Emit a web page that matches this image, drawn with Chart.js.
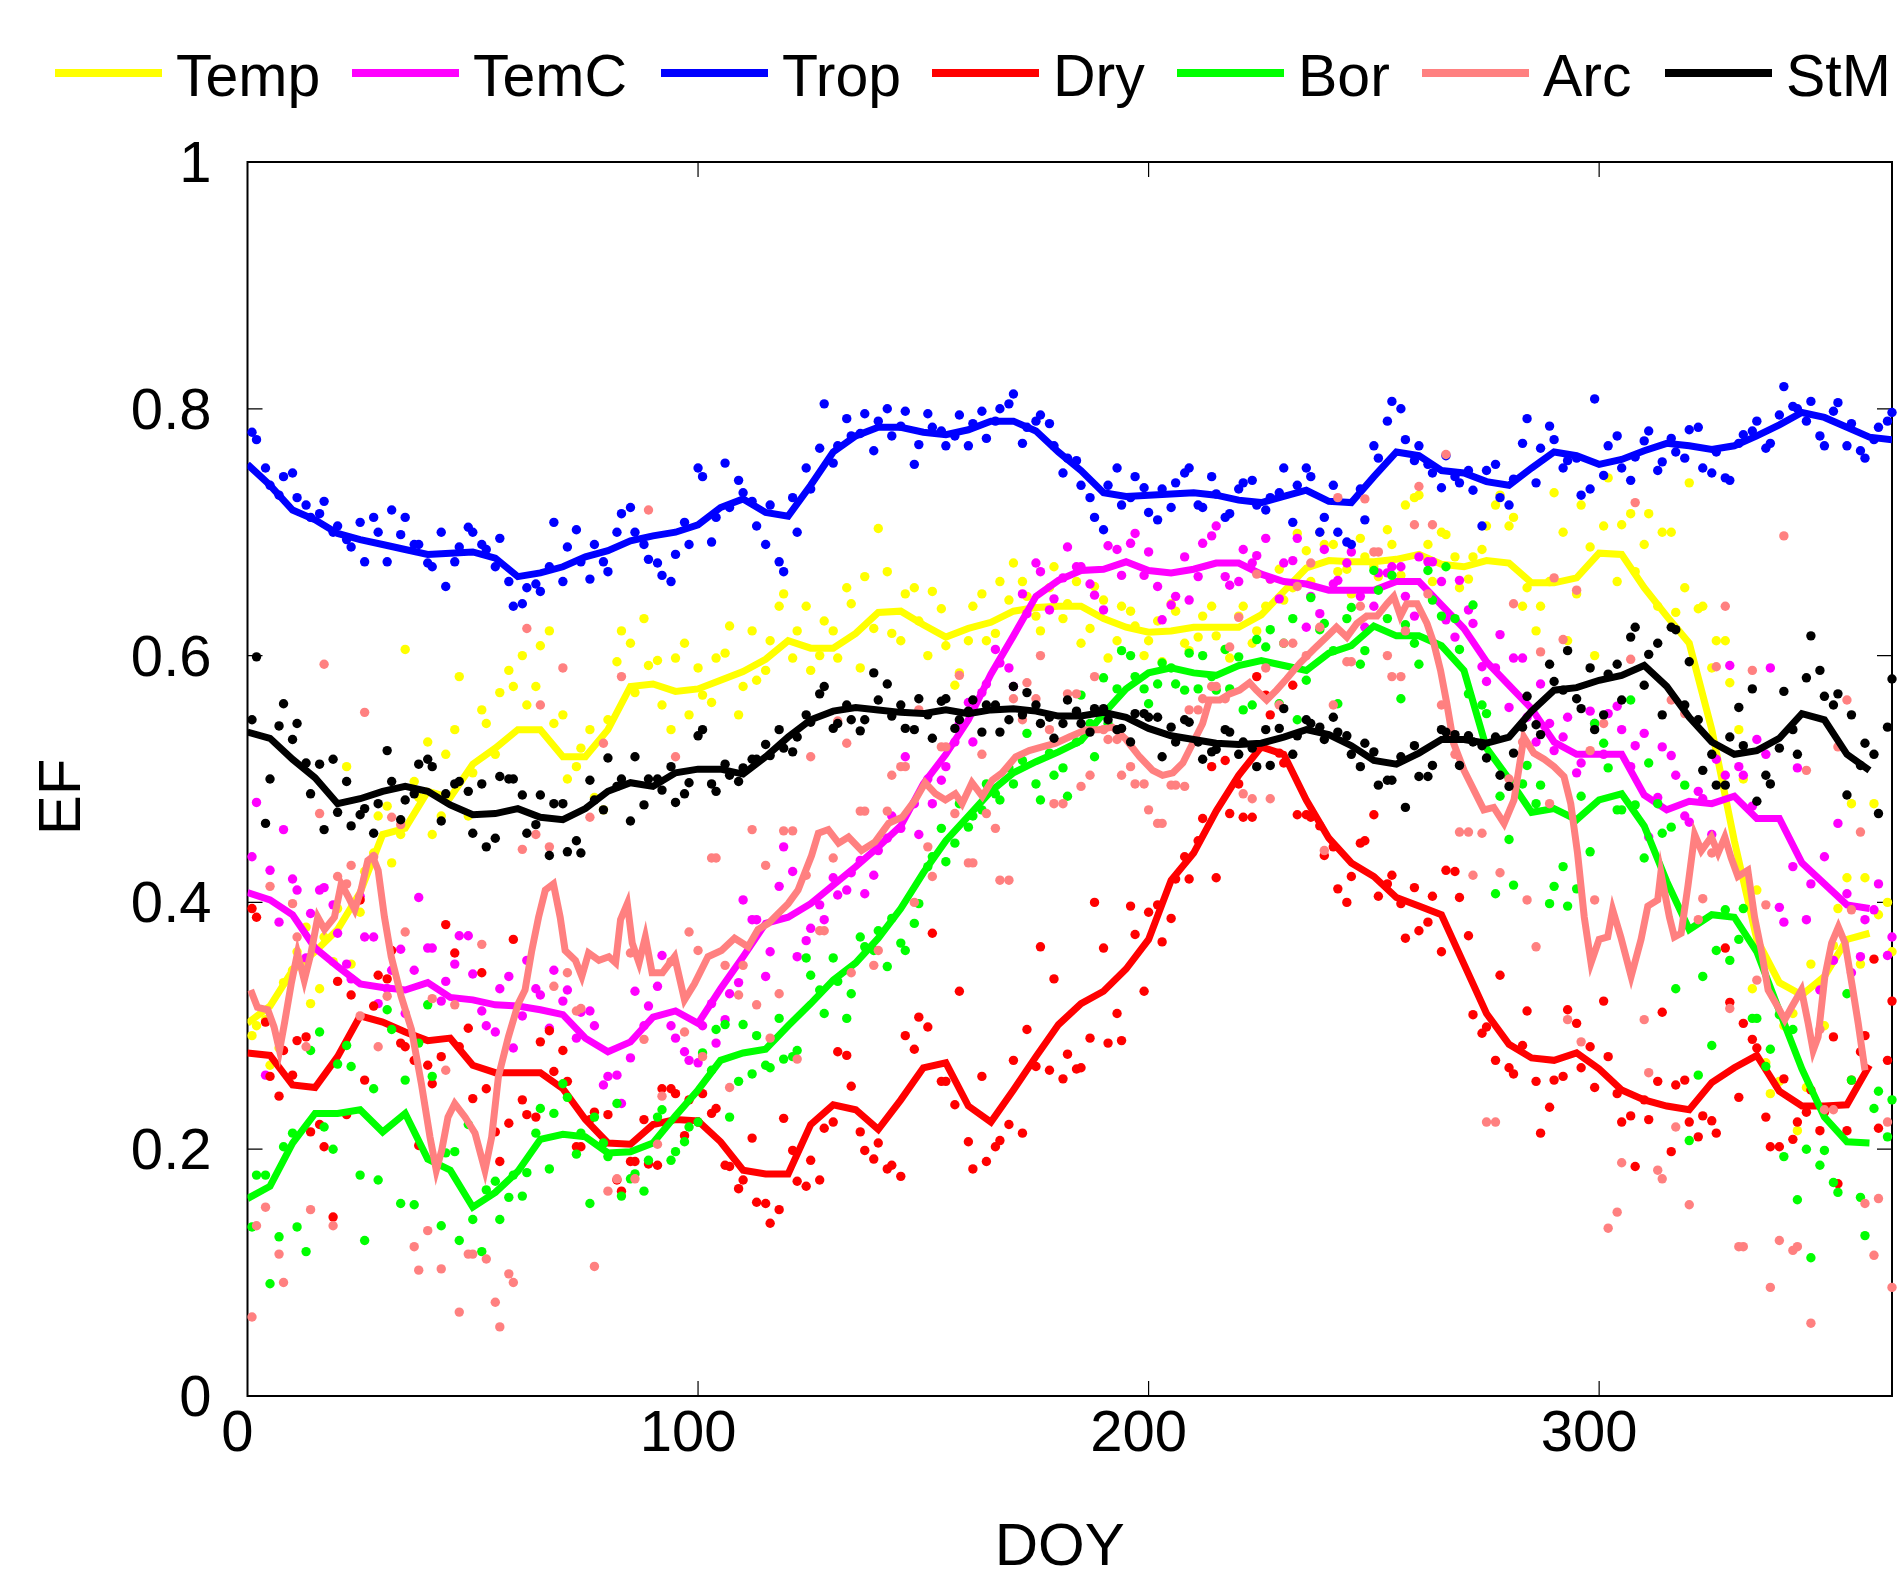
<!DOCTYPE html>
<html>
<head>
<meta charset="utf-8">
<title>EF by DOY</title>
<script src="https://cdn.jsdelivr.net/npm/chart.js@4.4.1/dist/chart.umd.min.js"></script>
<style>
  html, body { margin: 0; padding: 0; background: #fff; }
  #wrap { width: 1903px; height: 1576px; }
</style>
</head>
<body>
<div id="wrap"><canvas id="efChart" width="1903" height="1576"></canvas></div>
<script>
// series names, in legend order
const seriesNames = ['Temp', 'TemC', 'Trop', 'Dry', 'Bor', 'Arc', 'StM'];

// days of the smoothed lines (every 5 days)
const lineDays = [0,5,10,15,20,25,30,35,40,45,50,55,60,65,70,75,80,85,90,95,
  100,105,110,115,120,125,130,135,140,145,150,155,160,165,170,175,180,185,190,195,
  200,205,210,215,220,225,230,235,240,245,250,255,260,265,270,275,280,285,290,295,
  300,305,310,315,320,325,330,335,340,345,350,355,360,365];

const tempLine = [0.302,0.316,0.345,0.360,0.378,0.408,0.455,0.460,0.490,0.485,
  0.512,0.525,0.540,0.540,0.518,0.518,0.540,0.575,0.577,0.571,
  0.573,0.580,0.587,0.597,0.612,0.606,0.606,0.618,0.635,0.636,
  0.625,0.615,0.622,0.627,0.636,0.639,0.640,0.640,0.630,0.623,
  0.619,0.620,0.623,0.623,0.623,0.633,0.652,0.671,0.677,0.676,
  0.676,0.678,0.682,0.674,0.672,0.677,0.675,0.659,0.659,0.663,
  0.683,0.682,0.655,0.632,0.610,0.540,0.450,0.370,0.335,0.325,
  0.340,0.370,0.375,null];
const temCLine = [0.408,0.402,0.390,0.363,0.348,0.334,0.331,0.329,0.335,0.323,
  0.321,0.317,0.316,0.313,0.309,0.290,0.279,0.287,0.307,0.312,
  0.302,0.330,0.356,0.383,0.388,0.399,0.414,0.429,0.445,0.462,
  0.496,0.520,0.548,0.585,0.616,0.648,0.661,0.669,0.670,0.676,
  0.669,0.667,0.670,0.675,0.675,0.666,0.660,0.658,0.653,0.653,
  0.653,0.660,0.660,0.641,0.622,0.595,0.576,0.557,0.530,0.520,
  0.520,0.520,0.487,0.475,0.482,0.480,0.486,0.468,0.468,0.432,
  0.415,0.398,0.395,null];
const tropLine = [0.755,0.738,0.718,0.710,0.699,0.694,0.690,0.686,0.682,0.683,
  0.684,0.679,0.664,0.667,0.672,0.680,0.685,0.693,0.697,0.700,
  0.706,0.720,0.727,0.716,0.713,0.738,0.765,0.778,0.785,0.785,
  0.781,0.779,0.783,0.790,0.790,0.782,0.765,0.750,0.732,0.729,
  0.730,0.731,0.732,0.730,0.726,0.724,0.729,0.734,0.725,0.724,
  0.745,0.765,0.762,0.750,0.748,0.741,0.738,0.752,0.765,0.762,
  0.755,0.759,0.766,0.772,0.770,0.767,0.770,0.778,0.787,0.797,
  0.793,0.785,0.777,0.775];
const dryLine = [0.278,0.276,0.252,0.250,0.275,0.308,0.303,0.295,0.288,0.290,
  0.268,0.262,0.262,0.262,0.249,0.224,0.205,0.204,0.220,0.224,
  0.223,0.206,0.183,0.180,0.180,0.220,0.236,0.232,0.216,0.240,
  0.266,0.270,0.235,0.222,0.248,0.275,0.301,0.318,0.328,0.346,
  0.370,0.418,0.440,0.474,0.503,0.526,0.520,0.483,0.452,0.432,
  0.421,0.404,0.397,0.390,0.350,0.310,0.285,0.274,0.272,0.278,
  0.265,0.248,0.240,0.235,0.232,0.254,0.266,0.276,0.247,0.235,
  0.235,0.236,0.268,null];
const borLine = [0.160,0.170,0.205,0.229,0.229,0.232,0.214,0.229,0.192,0.183,
  0.153,0.165,0.182,0.208,0.212,0.210,0.197,0.198,0.205,0.227,
  0.248,0.272,0.278,0.281,0.300,0.318,0.337,0.351,0.371,0.395,
  0.424,0.450,0.470,0.490,0.505,0.514,0.522,0.531,0.553,0.573,
  0.586,0.590,0.586,0.584,0.592,0.596,0.592,0.588,0.602,0.608,
  0.624,0.616,0.616,0.608,0.588,0.525,0.500,0.473,0.476,0.467,
  0.483,0.488,0.462,0.417,0.378,0.390,0.388,0.360,0.312,0.265,
  0.226,0.206,0.205,null];
const stmLine = [0.538,0.533,0.516,0.501,0.480,0.484,0.490,0.494,0.490,0.479,
  0.471,0.472,0.476,0.469,0.467,0.476,0.490,0.497,0.494,0.505,
  0.508,0.508,0.504,0.518,0.534,0.548,0.555,0.558,0.556,0.554,
  0.553,0.556,0.553,0.556,0.557,0.555,0.551,0.551,0.554,0.550,
  0.541,0.535,0.532,0.529,0.528,0.529,0.534,0.540,0.536,0.527,
  0.515,0.512,0.521,0.532,0.532,0.529,0.534,0.555,0.572,0.574,
  0.580,0.584,0.592,0.575,0.550,0.530,0.520,0.523,0.533,0.553,
  0.548,0.520,0.507,null];

// the Arc line is spiky, so it keeps its own, denser days
const arcLineDays = [0.7,2.2,4.5,5.9,7.1,8.2,9.7,11.1,12.6,14.1,
  15.6,17.1,19.3,20.8,22.3,23.8,25.2,26.7,27.8,29,
  30.4,31.9,34.1,36.4,38.6,40.5,41.9,43.1,44.5,46,
  48.3,50.5,52.7,54.2,55.7,57.9,60.1,61.6,63.1,64.6,
  66.1,67.9,69.4,70.5,72.8,74.2,75.7,78,80.2,81.7,
  82.8,84.3,85.4,86.9,88.3,89.8,92.1,94.8,97,99.2,
  102.2,105.2,108.1,111.1,113.3,115.6,117.8,120,122.2,123.7,
  125.2,126.7,128.9,131.2,133.4,136.3,139.3,142.3,145.3,148.2,
  150.4,152.7,154.9,157.1,158.6,160.8,163.1,165.3,167.5,170.5,
  173.5,176.4,179.4,182.4,186.1,189,192,195,198,200.9,
  203.1,205.4,207.6,209.8,212,213.5,215.8,218,220.2,222.4,
  223.9,226.2,228.4,230.6,233.6,236.6,239.5,241.7,244,246.2,
  248.4,250.7,252.9,254.4,255.9,257.3,259.6,261.8,263.3,264.8,
  266.2,267.7,270,272.2,274.4,276.6,278.9,281.1,283.3,285.5,
  287.8,290,292.2,293.7,295.2,296.7,298.2,300,301.9,303,
  304.8,307.1,309.3,310.8,313,313.7,315.6,316.7,318.2,319.7,
  321.2,322.7,324.9,326.4,327.9,329.3,330.8,333,334.5,336,
  337.5,339.7,341.2,342.7,344.9,346.4,347.5,348.6,350.1,351.6,
  353.1,354.6,356.1,357.5,359];
const arcLine = [0.329,0.315,0.313,0.299,0.280,0.302,0.334,0.359,0.337,0.359,
  0.388,0.378,0.388,0.415,0.405,0.394,0.410,0.434,0.437,0.426,
  0.388,0.356,0.324,0.297,0.253,0.210,0.183,0.199,0.226,0.237,
  0.226,0.213,0.183,0.210,0.259,0.291,0.318,0.329,0.361,0.388,
  0.410,0.415,0.388,0.361,0.353,0.340,0.359,0.353,0.356,0.351,
  0.386,0.399,0.367,0.351,0.372,0.343,0.343,0.356,0.321,0.334,
  0.356,0.361,0.371,0.364,0.378,0.383,0.391,0.399,0.410,0.424,
  0.438,0.456,0.459,0.448,0.453,0.442,0.449,0.464,0.469,0.483,
  0.497,0.488,0.483,0.488,0.480,0.497,0.486,0.499,0.505,0.518,
  0.523,0.526,0.529,0.534,0.540,0.540,0.542,0.532,0.518,0.507,
  0.503,0.505,0.513,0.529,0.545,0.564,0.564,0.569,0.572,0.578,
  0.572,0.564,0.572,0.581,0.594,0.605,0.615,0.623,0.615,0.626,
  0.632,0.632,0.642,0.648,0.632,0.642,0.642,0.626,0.610,0.588,
  0.561,0.529,0.507,0.491,0.475,0.477,0.464,0.483,0.534,0.521,
  0.516,0.510,0.502,0.480,0.440,0.388,0.351,0.370,0.372,0.394,
  0.372,0.340,0.370,0.397,0.402,0.424,0.388,0.372,0.375,0.413,
  0.455,0.442,0.453,0.440,0.453,0.436,0.421,0.426,0.388,0.361,
  0.329,0.315,0.305,0.315,0.329,0.302,0.280,0.291,0.340,0.367,
  0.380,0.367,0.334,0.302,0.264];

// daily dots, shown in two interleaved sets of days (A: 2,5,8,...  B: 1,4,7,...)
const dotDaysA = [2,5,8,11,14,17,20,23,26,29,32,35,38,41,44,47,50,53,56,59,
  62,65,68,71,74,77,80,83,86,89,92,95,98,101,104,107,110,113,116,119,
  122,125,128,131,134,137,140,143,146,149,152,155,158,161,164,167,170,173,176,179,
  182,185,188,191,194,197,200,203,206,209,212,215,218,221,224,227,230,233,236,239,
  242,245,248,251,254,257,260,263,266,269,272,275,278,281,284,287,290,293,296,299,
  302,305,308,311,314,317,320,323,326,329,332,335,338,341,344,347,350,353,356,359,
  362,365];
const dotDaysB = [1,4,7,10,13,16,19,22,25,28,31,34,37,40,43,46,49,52,55,58,
  61,64,67,70,73,76,79,82,85,88,91,94,97,100,103,106,109,112,115,118,
  121,124,127,130,133,136,139,142,145,148,151,154,157,160,163,166,169,172,175,178,
  181,184,187,190,193,196,199,202,205,208,211,214,217,220,223,226,229,232,235,238,
  241,244,247,250,253,256,259,262,265,268,271,274,277,280,283,286,289,292,295,298,
  301,304,307,310,313,316,319,322,325,328,331,334,337,340,343,346,349,352,355,358,
  361,364];

const tempDotsA = [0.300,0.268,0.335,0.360,0.318,0.372,0.395,0.350,0.425,0.470,
  0.432,0.605,0.485,0.455,0.520,0.583,0.505,0.545,0.570,0.575,
  0.560,0.608,0.545,0.500,0.525,0.485,0.548,0.620,0.570,0.592,
  0.560,0.598,0.552,0.568,0.598,0.624,0.575,0.580,0.612,0.650,
  0.620,0.588,0.628,0.598,0.642,0.664,0.703,0.618,0.650,0.628,
  0.652,0.608,0.586,0.640,0.612,0.660,0.675,0.648,0.620,0.672,
  0.642,0.610,0.656,0.598,0.640,0.624,0.612,0.595,0.636,0.604,
  0.632,0.616,0.598,0.640,0.620,0.662,0.645,0.699,0.660,0.690,
  0.668,0.650,0.680,0.664,0.690,0.722,0.730,0.660,0.698,0.655,
  0.680,0.705,0.730,0.712,0.655,0.640,0.732,0.612,0.722,0.600,
  0.744,0.706,0.668,0.715,0.700,0.635,0.740,0.640,0.612,0.578,
  0.500,0.410,0.245,0.300,0.215,0.350,0.300,0.395,0.480,0.420,
  0.390,0.360];
const tempDotsB = [0.292,0.305,0.282,0.345,0.380,0.330,0.352,0.510,0.392,0.440,
  0.478,0.455,0.498,0.530,0.470,0.540,0.470,0.556,0.520,0.588,
  0.600,0.575,0.620,0.552,0.510,0.540,0.475,0.595,0.610,0.630,
  0.596,0.540,0.610,0.590,0.562,0.602,0.552,0.620,0.588,0.640,
  0.598,0.640,0.600,0.620,0.655,0.590,0.622,0.668,0.612,0.655,
  0.600,0.638,0.576,0.612,0.650,0.618,0.645,0.660,0.632,0.655,
  0.630,0.660,0.622,0.645,0.612,0.636,0.600,0.628,0.642,0.610,
  0.615,0.640,0.605,0.632,0.610,0.640,0.670,0.655,0.685,0.700,
  0.690,0.670,0.695,0.672,0.702,0.665,0.728,0.690,0.700,0.680,
  0.662,0.686,0.722,0.705,0.640,0.620,0.660,0.700,0.650,0.688,
  0.705,0.660,0.715,0.690,0.640,0.700,0.655,0.638,0.590,0.612,
  0.540,0.330,0.270,0.255,0.310,0.250,0.330,0.365,0.420,0.350,
  0.480,0.400];
const temCDotsA = [0.481,0.426,0.459,0.410,0.391,0.412,0.375,0.338,0.372,0.318,
  0.345,0.310,0.404,0.363,0.336,0.373,0.342,0.300,0.330,0.282,
  0.353,0.325,0.345,0.329,0.311,0.300,0.259,0.237,0.328,0.316,
  0.357,0.290,0.272,0.300,0.286,0.326,0.402,0.386,0.360,0.445,
  0.356,0.379,0.386,0.406,0.424,0.407,0.442,0.470,0.518,0.455,
  0.480,0.510,0.545,0.530,0.577,0.594,0.575,0.634,0.668,0.646,
  0.688,0.672,0.649,0.689,0.665,0.699,0.684,0.629,0.648,0.645,
  0.691,0.705,0.657,0.686,0.681,0.662,0.675,0.695,0.648,0.686,
  0.661,0.684,0.623,0.667,0.672,0.648,0.680,0.676,0.629,0.661,
  0.626,0.579,0.617,0.598,0.550,0.577,0.523,0.550,0.513,0.545,
  0.553,0.540,0.527,0.453,0.526,0.503,0.465,0.484,0.516,0.592,
  0.503,0.532,0.590,0.384,0.509,0.415,0.437,0.464,0.343,0.386,
  0.415,0.372];
const temCDotsB = [0.437,0.260,0.384,0.419,0.355,0.410,0.398,0.350,0.405,0.372,
  0.330,0.362,0.345,0.363,0.320,0.350,0.373,0.312,0.295,0.340,
  0.308,0.330,0.298,0.320,0.290,0.312,0.252,0.260,0.274,0.300,
  0.332,0.300,0.279,0.270,0.318,0.305,0.335,0.386,0.340,0.413,
  0.425,0.369,0.398,0.420,0.410,0.434,0.422,0.452,0.460,0.480,
  0.500,0.499,0.530,0.562,0.570,0.605,0.590,0.650,0.675,0.637,
  0.663,0.672,0.658,0.637,0.686,0.691,0.665,0.656,0.641,0.680,
  0.664,0.697,0.664,0.660,0.675,0.695,0.646,0.677,0.623,0.634,
  0.658,0.675,0.648,0.640,0.667,0.672,0.632,0.676,0.660,0.615,
  0.637,0.591,0.590,0.558,0.598,0.530,0.545,0.534,0.505,0.555,
  0.520,0.559,0.510,0.537,0.485,0.519,0.470,0.490,0.455,0.503,
  0.510,0.478,0.520,0.396,0.429,0.386,0.329,0.353,0.407,0.356,
  0.394,0.357];
const tropDotsA = [0.775,0.738,0.745,0.728,0.712,0.725,0.705,0.688,0.676,0.700,
  0.718,0.712,0.690,0.672,0.656,0.688,0.700,0.686,0.695,0.640,
  0.655,0.652,0.708,0.688,0.676,0.690,0.668,0.715,0.700,0.678,
  0.665,0.682,0.690,0.745,0.712,0.720,0.732,0.705,0.722,0.668,
  0.700,0.735,0.804,0.770,0.778,0.796,0.790,0.778,0.798,0.771,
  0.785,0.770,0.795,0.788,0.776,0.800,0.812,0.785,0.795,0.770,
  0.760,0.738,0.712,0.738,0.722,0.745,0.716,0.735,0.740,0.752,
  0.720,0.731,0.715,0.740,0.722,0.728,0.752,0.738,0.745,0.712,
  0.700,0.690,0.710,0.760,0.806,0.775,0.770,0.748,0.762,0.740,
  0.734,0.750,0.728,0.743,0.792,0.768,0.775,0.758,0.730,0.808,
  0.770,0.752,0.761,0.782,0.757,0.765,0.783,0.752,0.765,0.742,
  0.779,0.790,0.772,0.818,0.800,0.806,0.770,0.805,0.788,0.760,
  0.785,0.797];
const tropDotsB = [0.781,0.752,0.730,0.748,0.722,0.715,0.700,0.694,0.708,0.712,
  0.676,0.698,0.690,0.675,0.700,0.676,0.704,0.690,0.672,0.660,
  0.642,0.658,0.672,0.660,0.702,0.662,0.676,0.700,0.720,0.690,
  0.675,0.660,0.708,0.752,0.692,0.756,0.742,0.725,0.690,0.676,
  0.728,0.752,0.768,0.756,0.792,0.780,0.766,0.800,0.786,0.755,
  0.796,0.782,0.778,0.770,0.798,0.790,0.804,0.772,0.790,0.788,
  0.748,0.758,0.728,0.702,0.752,0.728,0.736,0.710,0.720,0.748,
  0.722,0.745,0.712,0.735,0.742,0.718,0.732,0.708,0.752,0.700,
  0.738,0.692,0.735,0.770,0.790,0.800,0.758,0.755,0.736,0.745,
  0.750,0.705,0.755,0.722,0.772,0.740,0.786,0.752,0.760,0.735,
  0.746,0.778,0.742,0.774,0.750,0.776,0.760,0.785,0.748,0.744,
  0.772,0.782,0.768,0.795,0.802,0.790,0.778,0.798,0.770,0.766,
  0.775,0.790];
const dryDotsA = [0.388,0.259,0.280,0.288,0.214,0.202,0.336,0.325,0.256,0.341,
  0.361,0.283,0.203,0.253,0.382,0.283,0.241,0.249,0.190,0.370,
  0.228,0.287,0.263,0.255,0.202,0.230,0.228,0.166,0.190,0.188,
  0.249,0.245,0.240,0.245,0.233,0.186,0.175,0.157,0.140,0.225,
  0.174,0.191,0.217,0.279,0.251,0.199,0.205,0.187,0.292,0.307,
  0.375,0.255,0.328,0.184,0.190,0.207,0.272,0.297,0.364,0.338,
  0.277,0.266,0.400,0.286,0.288,0.374,0.392,0.368,0.419,0.419,
  0.468,0.420,0.472,0.469,0.583,0.552,0.513,0.471,0.469,0.438,
  0.411,0.421,0.450,0.405,0.422,0.371,0.377,0.405,0.426,0.404,
  0.309,0.299,0.341,0.261,0.312,0.213,0.256,0.313,0.266,0.250,
  0.275,0.222,0.186,0.224,0.311,0.252,0.222,0.227,0.213,0.319,
  0.302,0.282,0.202,0.257,0.222,0.248,0.230,0.172,0.256,0.292,
  0.217,0.320];
const dryDotsB = [0.395,0.303,0.243,0.260,0.291,0.220,0.145,0.228,0.402,0.316,
  0.338,0.286,0.272,0.268,0.275,0.359,0.298,0.343,0.214,0.221,
  0.240,0.226,0.296,0.280,0.202,0.224,0.205,0.175,0.190,0.224,
  0.187,0.249,0.211,0.222,0.229,0.187,0.168,0.209,0.156,0.151,
  0.199,0.170,0.175,0.222,0.276,0.214,0.192,0.184,0.178,0.281,
  0.299,0.255,0.236,0.206,0.259,0.202,0.220,0.213,0.267,0.264,
  0.257,0.265,0.290,0.363,0.310,0.397,0.328,0.398,0.387,0.437,
  0.450,0.510,0.515,0.496,0.469,0.568,0.521,0.576,0.471,0.462,
  0.445,0.400,0.448,0.471,0.415,0.399,0.412,0.384,0.360,0.425,
  0.373,0.294,0.272,0.266,0.284,0.255,0.234,0.259,0.302,0.283,
  0.320,0.245,0.227,0.240,0.255,0.198,0.256,0.210,0.223,0.363,
  0.242,0.289,0.226,0.202,0.208,0.230,0.215,0.291,0.215,0.279,
  0.354,0.272];
const borDotsA = [0.179,0.091,0.202,0.137,0.280,0.218,0.269,0.267,0.126,0.175,
  0.297,0.256,0.286,0.259,0.197,0.126,0.143,0.167,0.143,0.179,
  0.181,0.233,0.229,0.242,0.213,0.226,0.194,0.162,0.180,0.191,
  0.232,0.198,0.218,0.278,0.297,0.226,0.301,0.292,0.266,0.273,
  0.280,0.341,0.310,0.336,0.326,0.364,0.377,0.387,0.361,0.399,
  0.437,0.433,0.480,0.470,0.496,0.483,0.496,0.537,0.483,0.503,
  0.486,0.568,0.518,0.545,0.604,0.583,0.561,0.594,0.577,0.602,
  0.600,0.572,0.573,0.556,0.613,0.621,0.610,0.548,0.647,0.626,
  0.561,0.639,0.604,0.653,0.665,0.625,0.593,0.645,0.672,0.605,
  0.641,0.553,0.486,0.414,0.511,0.495,0.413,0.397,0.486,0.545,
  0.509,0.475,0.479,0.513,0.456,0.330,0.207,0.340,0.361,0.353,
  0.395,0.306,0.281,0.194,0.159,0.112,0.199,0.165,0.256,0.130,
  0.247,0.240];
const borDotsB = [0.137,0.179,0.129,0.213,0.117,0.295,0.200,0.284,0.179,0.249,
  0.313,0.156,0.155,0.317,0.138,0.198,0.220,0.117,0.174,0.161,
  0.162,0.213,0.184,0.253,0.196,0.156,0.205,0.237,0.176,0.166,
  0.226,0.191,0.206,0.222,0.264,0.301,0.255,0.261,0.268,0.306,
  0.275,0.355,0.329,0.355,0.306,0.372,0.361,0.348,0.367,0.383,
  0.429,0.460,0.448,0.461,0.475,0.488,0.509,0.515,0.496,0.521,
  0.509,0.530,0.545,0.582,0.573,0.600,0.573,0.577,0.590,0.572,
  0.573,0.583,0.605,0.599,0.560,0.607,0.561,0.630,0.580,0.621,
  0.604,0.630,0.593,0.669,0.630,0.565,0.610,0.669,0.632,0.630,
  0.569,0.560,0.407,0.451,0.496,0.480,0.399,0.429,0.411,0.441,
  0.529,0.475,0.564,0.436,0.480,0.461,0.495,0.260,0.284,0.394,
  0.370,0.306,0.267,0.309,0.297,0.200,0.187,0.173,0.326,0.161,
  0.233,0.210];
const arcDotsA = [0.138,0.413,0.092,0.372,0.151,0.593,0.421,0.430,0.554,0.283,
  0.469,0.376,0.102,0.322,0.264,0.068,0.115,0.111,0.056,0.092,
  0.622,0.560,0.332,0.343,0.314,0.105,0.166,0.583,0.176,0.718,
  0.243,0.518,0.376,0.275,0.436,0.250,0.349,0.317,0.290,0.458,
  0.273,0.518,0.377,0.547,0.343,0.474,0.361,0.503,0.510,0.556,
  0.421,0.526,0.584,0.432,0.472,0.418,0.565,0.578,0.600,0.480,
  0.569,0.494,0.583,0.532,0.503,0.496,0.475,0.464,0.495,0.556,
  0.565,0.575,0.607,0.488,0.666,0.484,0.610,0.656,0.675,0.442,
  0.728,0.595,0.727,0.684,0.583,0.620,0.737,0.706,0.763,0.457,
  0.422,0.222,0.424,0.642,0.402,0.603,0.663,0.305,0.287,0.402,
  0.136,0.189,0.724,0.262,0.176,0.218,0.155,0.403,0.591,0.314,
  0.121,0.337,0.088,0.697,0.121,0.059,0.232,0.526,0.394,0.156,
  0.160,0.088];
const arcDotsB = [0.064,0.153,0.115,0.399,0.283,0.472,0.138,0.415,0.308,0.437,
  0.324,0.463,0.121,0.134,0.103,0.317,0.115,0.366,0.076,0.099,
  0.443,0.455,0.445,0.590,0.312,0.469,0.529,0.176,0.359,0.289,
  0.204,0.352,0.295,0.361,0.436,0.349,0.325,0.459,0.430,0.326,
  0.458,0.422,0.377,0.436,0.529,0.474,0.349,0.474,0.510,0.400,
  0.445,0.526,0.472,0.432,0.520,0.460,0.418,0.548,0.565,0.540,
  0.480,0.569,0.503,0.540,0.532,0.510,0.496,0.464,0.495,0.494,
  0.556,0.575,0.565,0.631,0.484,0.590,0.560,0.610,0.600,0.623,
  0.560,0.595,0.640,0.684,0.600,0.583,0.706,0.650,0.560,0.520,
  0.457,0.456,0.222,0.500,0.530,0.364,0.480,0.613,0.653,0.523,
  0.545,0.149,0.597,0.305,0.183,0.564,0.553,0.386,0.440,0.640,
  0.121,0.588,0.398,0.126,0.118,0.507,0.297,0.232,0.564,0.457,
  0.114,0.222];
const stmDotsA = [0.599,0.500,0.561,0.545,0.488,0.459,0.473,0.462,0.476,0.480,
  0.498,0.483,0.512,0.510,0.488,0.498,0.456,0.445,0.502,0.500,
  0.456,0.487,0.480,0.441,0.440,0.483,0.517,0.500,0.518,0.500,
  0.491,0.481,0.497,0.540,0.490,0.503,0.509,0.516,0.519,0.525,
  0.534,0.546,0.575,0.545,0.548,0.548,0.564,0.551,0.541,0.565,
  0.533,0.565,0.548,0.564,0.560,0.538,0.575,0.570,0.545,0.533,
  0.564,0.545,0.557,0.548,0.541,0.553,0.550,0.518,0.530,0.546,
  0.516,0.524,0.538,0.530,0.510,0.511,0.557,0.535,0.545,0.532,
  0.538,0.520,0.529,0.495,0.499,0.477,0.502,0.511,0.538,0.511,
  0.530,0.517,0.503,0.521,0.567,0.536,0.579,0.604,0.557,0.540,
  0.585,0.564,0.623,0.601,0.552,0.621,0.595,0.507,0.495,0.534,
  0.527,0.482,0.496,0.571,0.520,0.616,0.567,0.569,0.552,0.529,
  0.472,0.581];
const stmDotsB = [0.548,0.464,0.543,0.532,0.513,0.512,0.516,0.498,0.471,0.456,
  0.523,0.467,0.488,0.516,0.466,0.496,0.490,0.496,0.452,0.500,
  0.487,0.463,0.438,0.480,0.450,0.499,0.475,0.494,0.466,0.479,
  0.500,0.510,0.488,0.535,0.496,0.512,0.498,0.516,0.528,0.540,
  0.522,0.552,0.569,0.541,0.560,0.539,0.586,0.577,0.560,0.540,
  0.552,0.563,0.541,0.555,0.538,0.560,0.548,0.552,0.560,0.550,
  0.545,0.555,0.538,0.557,0.540,0.530,0.553,0.550,0.542,0.548,
  0.530,0.522,0.540,0.520,0.525,0.540,0.541,0.520,0.548,0.542,
  0.550,0.535,0.510,0.522,0.499,0.518,0.527,0.502,0.540,0.536,
  0.535,0.527,0.534,0.494,0.542,0.544,0.593,0.572,0.565,0.590,
  0.552,0.593,0.615,0.576,0.610,0.623,0.560,0.548,0.520,0.495,
  0.558,0.573,0.503,0.525,0.540,0.582,0.588,0.560,0.487,0.511,
  0.520,0.542];

const xTickValues = [0, 100, 200, 300];

// colours (same order as seriesNames)
const seriesColors = ['#ffff00', '#ff00ff', '#0000ff', '#ff0000', '#00ff00', '#ff8080', '#000000'];

const lineSets = [
  [lineDays, tempLine], [lineDays, temCLine], [lineDays, tropLine], [lineDays, dryLine],
  [lineDays, borLine], [arcLineDays, arcLine], [lineDays, stmLine]
];
const dotSetsA = [tempDotsA, temCDotsA, tropDotsA, dryDotsA, borDotsA, arcDotsA, stmDotsA];
const dotSetsB = [tempDotsB, temCDotsB, tropDotsB, dryDotsB, borDotsB, arcDotsB, stmDotsB];

const toPoints = (xs, ys) => xs.map((x, i) => ({x: x, y: ys[i]}));

// each series: dots first, then its line; later series sit on top
const datasets = [];
seriesNames.forEach((name, i) => {
  datasets.push({
    type: 'scatter',
    label: name + ' daily',
    data: toPoints(dotDaysA, dotSetsA[i]).concat(toPoints(dotDaysB, dotSetsB[i])),
    backgroundColor: seriesColors[i],
    borderWidth: 0,
    pointRadius: 4.7,
    pointHoverRadius: 4.7,
    clip: false,
    order: 100 - 2 * i
  });
  datasets.push({
    type: 'line',
    label: name,
    isLegendLine: true,
    data: toPoints(lineSets[i][0], lineSets[i][1]),
    borderColor: seriesColors[i],
    backgroundColor: seriesColors[i],
    borderWidth: 7,
    pointRadius: 0,
    tension: 0,
    fill: false,
    spanGaps: false,
    order: 99 - 2 * i
  });
});

const FONT = '"Liberation Sans", Arial, sans-serif';

// frame with inward ticks, axis titles and a legend row above the plot
const frameAndLegend = {
  id: 'frameAndLegend',
  beforeDatasetsDraw(chart) {
    const {ctx, chartArea: a, scales: {x, y}} = chart;
    const tl = 15;
    ctx.save();
    ctx.strokeStyle = '#000';
    ctx.lineWidth = 1.2;
    ctx.beginPath();
    x.ticks.forEach(t => {
      if (t.value <= x.min || t.value >= x.max) return;
      const px = x.getPixelForValue(t.value);
      ctx.moveTo(px, a.bottom); ctx.lineTo(px, a.bottom - tl);
      ctx.moveTo(px, a.top); ctx.lineTo(px, a.top + tl);
    });
    y.ticks.forEach(t => {
      if (t.value <= y.min || t.value >= y.max) return;
      const py = y.getPixelForValue(t.value);
      ctx.moveTo(a.left, py); ctx.lineTo(a.left + tl, py);
      ctx.moveTo(a.right, py); ctx.lineTo(a.right - tl, py);
    });
    ctx.stroke();
    ctx.lineWidth = 2;
    ctx.strokeRect(a.left, a.top, a.right - a.left, a.bottom - a.top);
    ctx.restore();
  },
  afterDraw(chart) {
    const {ctx, chartArea: a} = chart;
    ctx.save();
    // axis titles
    ctx.fillStyle = '#000';
    ctx.font = '60px ' + FONT;
    ctx.textAlign = 'center';
    ctx.textBaseline = 'middle';
    ctx.fillText('DOY', (a.left + a.right) / 2 - 10, a.bottom + 152);
    ctx.save();
    ctx.translate(a.left - 184, (a.top + a.bottom) / 2 + 18);
    ctx.rotate(-Math.PI / 2);
    ctx.fillText('EF', 0, 0);
    ctx.restore();
    // legend
    const items = chart.data.datasets.filter(d => d.isLegendLine);
    const itemX = [55, 352, 661, 932, 1177, 1422, 1665];
    const lineLen = 107, textGap = 14, lineY = 73, baseY = 96;
    ctx.font = '59px ' + FONT;
    ctx.textAlign = 'left';
    ctx.textBaseline = 'alphabetic';
    items.forEach((d, i) => {
      const x0 = itemX[i];
      ctx.strokeStyle = d.borderColor;
      ctx.lineWidth = 8;
      ctx.beginPath();
      ctx.moveTo(x0, lineY);
      ctx.lineTo(x0 + lineLen, lineY);
      ctx.stroke();
      ctx.fillStyle = '#000';
      ctx.fillText(d.label, x0 + lineLen + textGap, baseY);
    });
    ctx.restore();
  }
};

Chart.defaults.font.family = FONT;
Chart.defaults.color = '#000';

const ctx = document.getElementById('efChart').getContext('2d');
new Chart(ctx, {
  type: 'scatter',
  data: { datasets: datasets },
  options: {
    responsive: false,
    devicePixelRatio: 1,
    animation: false,
    events: [],
    layout: { padding: { top: 162, right: 11, bottom: 0, left: 0 } },
    plugins: {
      legend: { display: false },
      tooltip: { enabled: false }
    },
    scales: {
      x: {
        type: 'linear',
        min: 0,
        max: 365,
        afterBuildTicks: s => { s.ticks = xTickValues.map(v => ({value: v})); },
        afterFit: s => { s.height = 180; },
        grid: { display: false, drawTicks: false },
        border: { display: false },
        ticks: {
          font: { size: 58 },
          color: '#000',
          padding: 4,
          labelOffset: -10,
          maxRotation: 0,
          autoSkip: false
        }
      },
      y: {
        type: 'linear',
        min: 0,
        max: 1,
        afterFit: s => { s.width = 247.5; },
        grid: { display: false, drawTicks: false },
        border: { display: false },
        ticks: {
          stepSize: 0.2,
          font: { size: 58 },
          color: '#000',
          padding: 36,
          labelOffset: 4,
          callback: v => String(Math.round(v * 10) / 10)
        }
      }
    }
  },
  plugins: [frameAndLegend]
});
</script>
</body>
</html>
